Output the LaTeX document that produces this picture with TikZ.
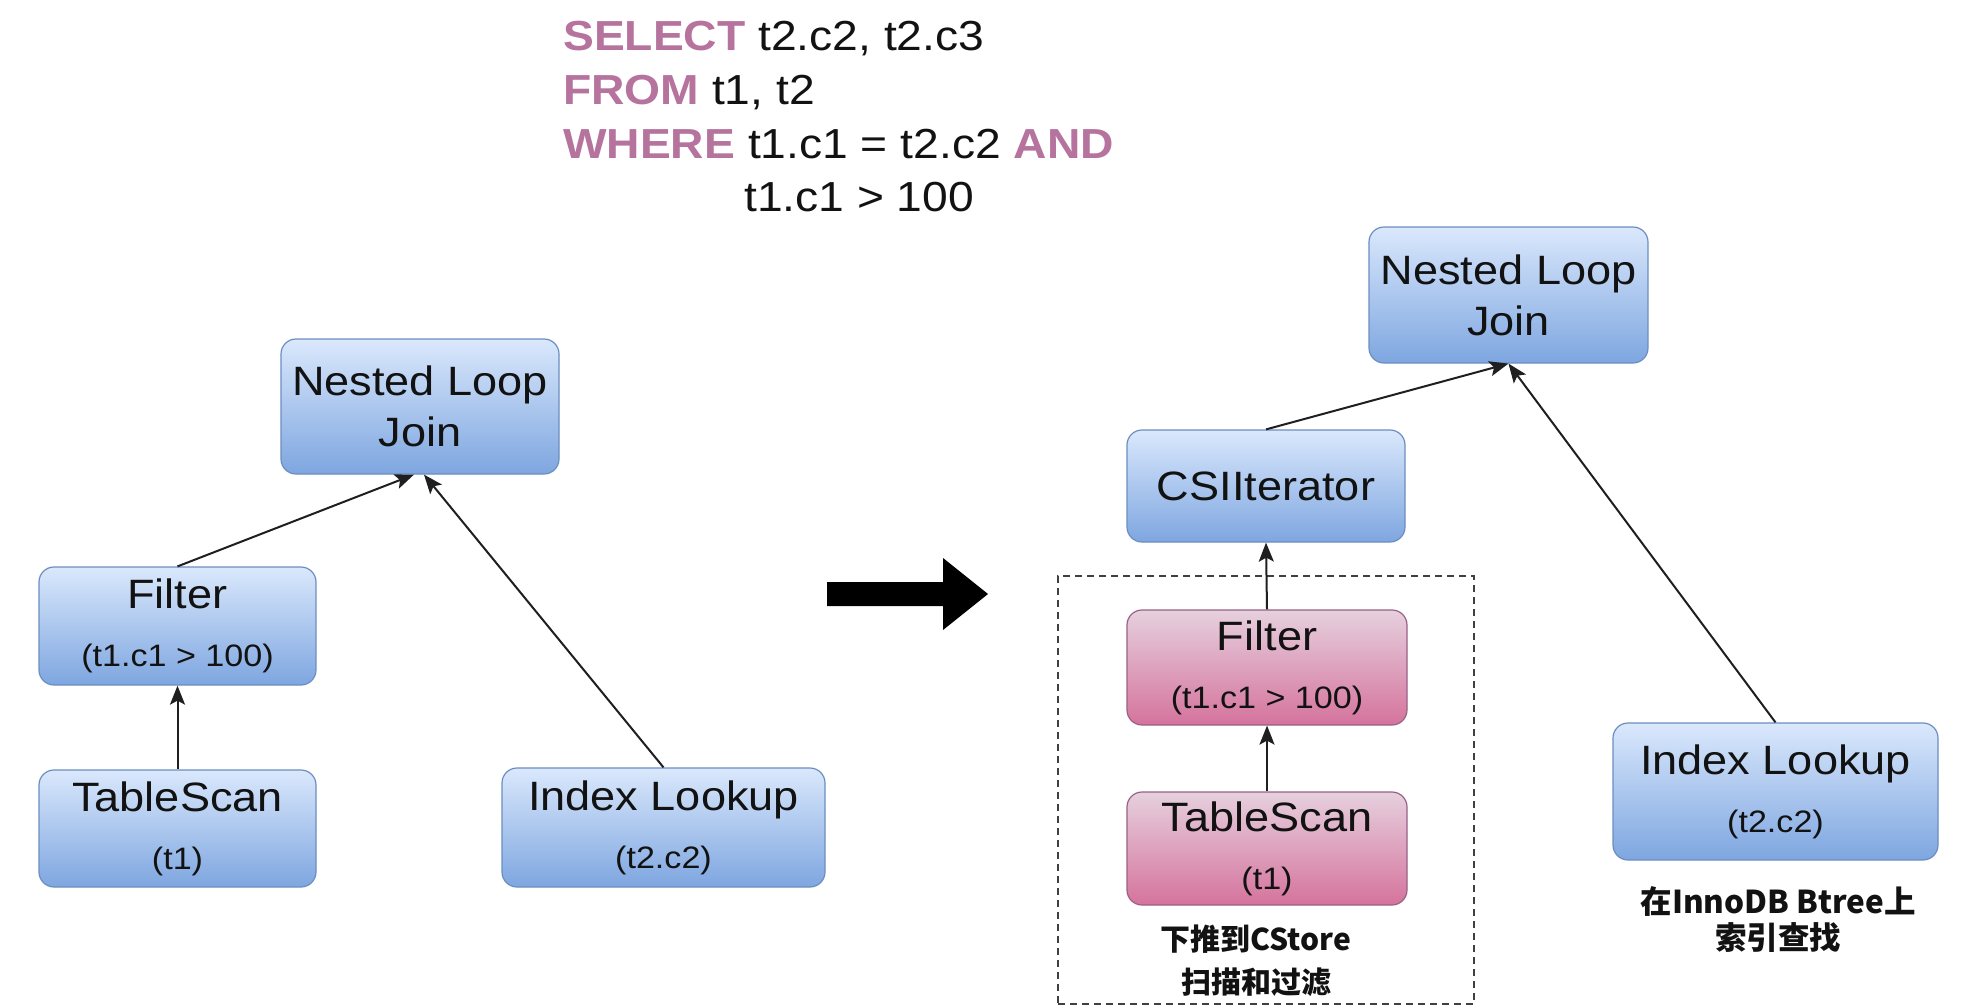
\documentclass[tikz,border=0pt]{standalone}
\usepackage{fontspec}
\setmainfont{Liberation Sans}[FakeStretch=1.1]
\newfontfamily\cjkfont{Noto Sans CJK SC}
\usetikzlibrary{arrows.meta}

\definecolor{bluetop}{HTML}{DAE8FC}
\definecolor{bluebot}{HTML}{7EA6E0}
\definecolor{blueedge}{HTML}{6C8EBF}
\definecolor{pinktop}{HTML}{E6D0DE}
\definecolor{pinkbot}{HTML}{D5739D}
\definecolor{pinkedge}{HTML}{996185}
\definecolor{sqlkw}{HTML}{B5739D}
\definecolor{txt}{HTML}{121212}

\newcommand\subline[1]{{\fontsize{31}{58}\selectfont #1}}

\tikzset{
  op/.style={rounded corners=15pt, line width=1.2pt, inner sep=0pt, align=center,
    text=txt, font=\fontsize{41}{58}\selectfont},
  blueop/.style={op, draw=blueedge, top color=bluetop, bottom color=bluebot},
  pinkop/.style={op, draw=pinkedge, top color=pinktop, bottom color=pinkbot},
  joinfont/.style={font=\fontsize{41}{51}\selectfont},
  conn/.style={line width=2pt, draw=black!88,
    -{Stealth[length=19pt,width=15pt,inset=4pt]}},
  sqlline/.style={anchor=base west, inner sep=0pt, text=txt,
    font=\fontsize{42}{50}\selectfont},
  note/.style={align=center, inner sep=0pt, text=txt},
  groupframe/.style={draw=black!75, line width=1.3pt, dash pattern=on 7pt off 5pt,
    inner sep=0pt},
}

\begin{document}
\begin{tikzpicture}[x=1pt,y=-1pt]
  \fill[white] (0,0) rectangle (1968,1007);
  \useasboundingbox (0,0) rectangle (1968,1007);

  % the query
  \node[sqlline] (sqlA) at (563,50)  {\textcolor{sqlkw}{\bfseries SELECT} t2.c2, t2.c3};
  \node[sqlline] (sqlB) at (563,104) {\textcolor{sqlkw}{\bfseries FROM} t1, t2};
  \node[sqlline] (sqlC) at (563,158) {\textcolor{sqlkw}{\bfseries WHERE} t1.c1 = t2.c2 \textcolor{sqlkw}{\bfseries AND}};
  \node[sqlline] (sqlD) at (744,211) {t1.c1 > 100};

  % original plan
  \node[blueop, joinfont, minimum width=278pt, minimum height=135pt] (lnlj) at (420,406.5) {Nested Loop\\Join};
  \node[blueop, minimum width=277pt, minimum height=118pt] (lfilter) at (177.5,626) {Filter\\\subline{(t1.c1 > 100)}};
  \node[blueop, minimum width=277pt, minimum height=117pt] (lscan) at (177.5,828.5) {TableScan\\\subline{(t1)}};
  \node[blueop, minimum width=323pt, minimum height=119pt] (lindex) at (663.5,827.5) {Index Lookup\\\subline{(t2.c2)}};

  \draw[conn] (lscan.north) -- (lfilter.south);
  \draw[conn] (lfilter.north) -- ([xshift=-6pt]lnlj.south);
  \draw[conn] (lindex.north) -- ([xshift=4pt]lnlj.south);

  % transformation arrow
  \fill[black] (827,582) -- (943,582) -- (943,558) -- (988,594) -- (943,630)
    -- (943,606) -- (827,606) -- cycle;

  % rewritten plan
  \node[groupframe, minimum width=416pt, minimum height=428pt] (pushed) at (1266,790) {};
  \node[blueop, joinfont, minimum width=279pt, minimum height=136pt] (rnlj) at (1508.5,295) {Nested Loop\\Join};
  \node[blueop, minimum width=278pt, minimum height=112pt] (csi) at (1266,486) {CSIIterator};
  \node[pinkop, minimum width=280pt, minimum height=115pt] (pfilter) at (1267,667.5) {Filter\\\subline{(t1.c1 > 100)}};
  \node[pinkop, minimum width=280pt, minimum height=113pt] (pscan) at (1267,848.5) {TableScan\\\subline{(t1)}};
  \node[blueop, minimum width=325pt, minimum height=137pt] (rindex) at (1775.5,791.5) {Index Lookup\\\subline{(t2.c2)}};

  \draw[conn] (pscan.north) -- (pfilter.south);
  \draw[conn] (pfilter.north) -- (csi.south);
  \draw[conn] (csi.north) -- (rnlj.south);
  \draw[conn] (rindex.north) -- (rnlj.south);

  \node[note, font=\cjkfont\bfseries\fontsize{30}{43}\selectfont] (pushnote) at (1256,961) {下推到CStore\\扫描和过滤};
  \node[note, font=\cjkfont\bfseries\fontsize{31.5}{36}\selectfont] (btreenote) at (1778,920) {在InnoDB Btree上\\索引查找};
\end{tikzpicture}
\end{document}
